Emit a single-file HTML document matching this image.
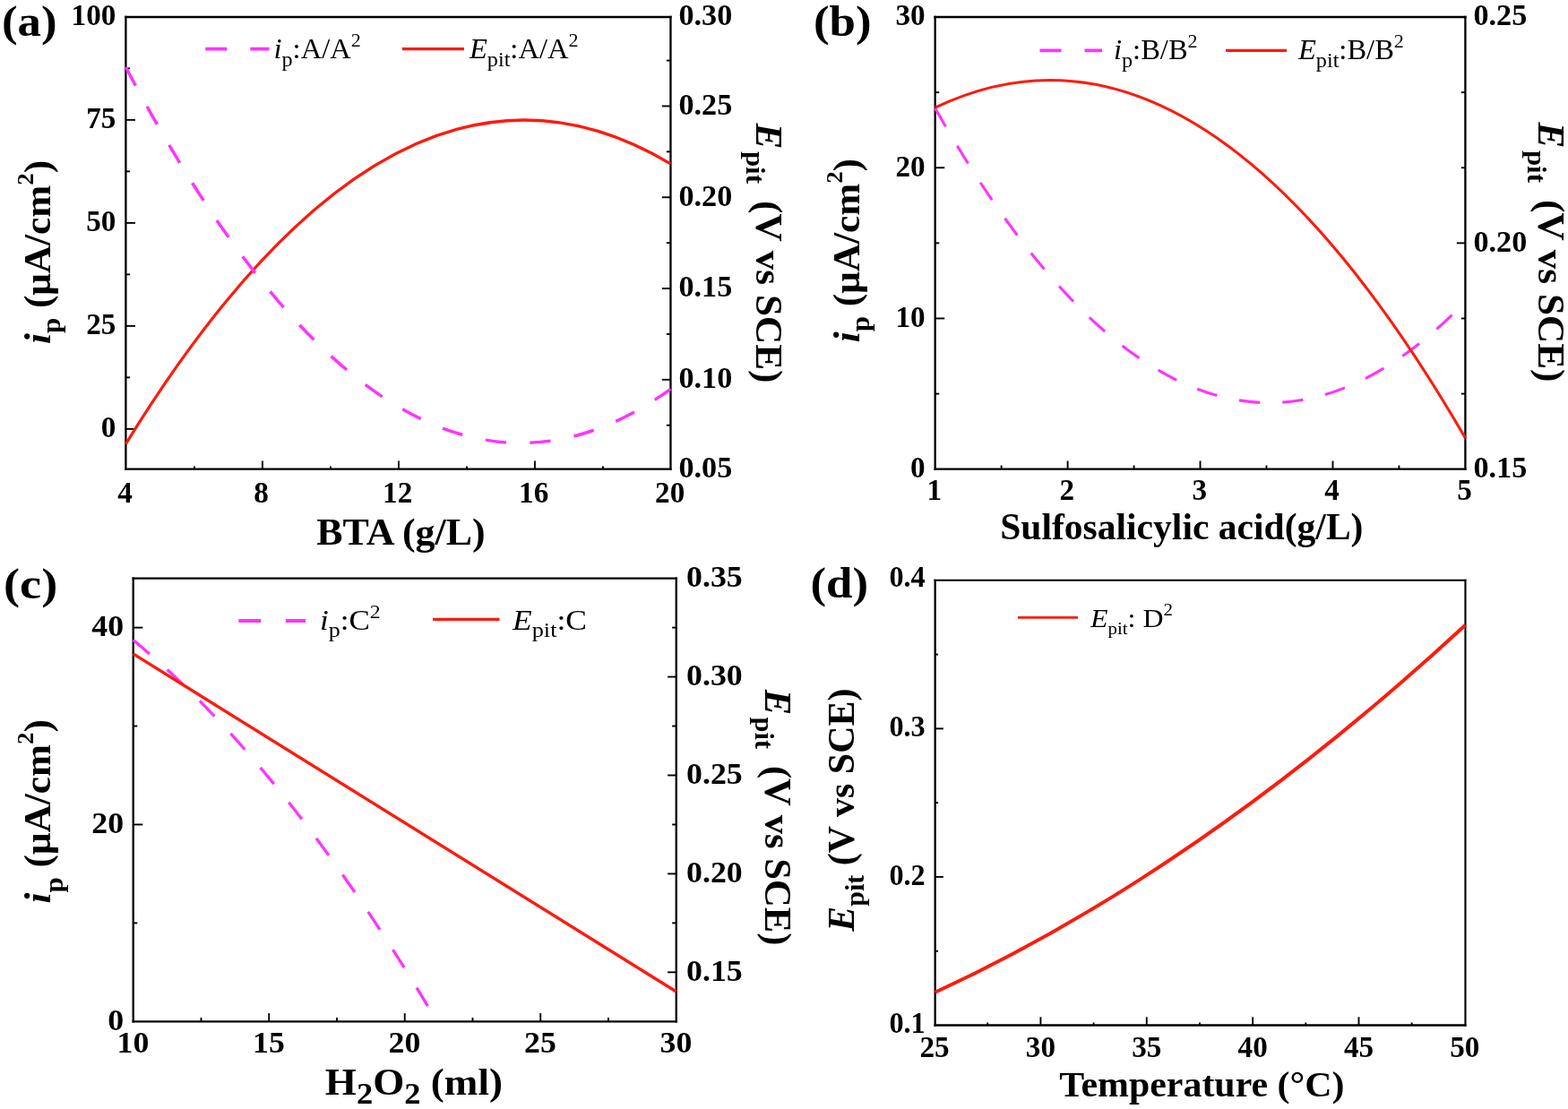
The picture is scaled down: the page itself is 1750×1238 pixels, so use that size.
<!DOCTYPE html>
<html lang="en">
<head>
<meta charset="utf-8">
<title>Effects of BTA, sulfosalicylic acid, H2O2 and temperature on ip and Epit</title>
<style>
html,body{margin:0;padding:0;background:#fff;}
body{width:1750px;height:1238px;overflow:hidden;}
svg{display:block;font-family:'Liberation Serif', serif;}
text{fill:#000;}
</style>
</head>
<body>
<svg width="1750" height="1238" viewBox="0 0 1750 1238">
<rect x="0" y="0" width="1750" height="1238" fill="#fff"/>
<g id="panel-a">
<line x1="140.4" y1="17.85" x2="140.4" y2="524.85" stroke="#000" stroke-width="2.3"/>
<line x1="139.25" y1="523.7" x2="749.6" y2="523.7" stroke="#000" stroke-width="2.3"/>
<line x1="748.45" y1="17.85" x2="748.45" y2="524.85" stroke="#000" stroke-width="2.3"/>
<line x1="139.25" y1="19" x2="749.6" y2="19" stroke="#000" stroke-width="2.3"/>
<line x1="140.4" y1="478.86" x2="151" y2="478.86" stroke="#000" stroke-width="1.9"/>
<line x1="140.4" y1="421.36" x2="145" y2="421.36" stroke="#000" stroke-width="1.9"/>
<line x1="140.4" y1="363.86" x2="151" y2="363.86" stroke="#000" stroke-width="1.9"/>
<line x1="140.4" y1="306.36" x2="145" y2="306.36" stroke="#000" stroke-width="1.9"/>
<line x1="140.4" y1="248.86" x2="151" y2="248.86" stroke="#000" stroke-width="1.9"/>
<line x1="140.4" y1="191.36" x2="145" y2="191.36" stroke="#000" stroke-width="1.9"/>
<line x1="140.4" y1="133.86" x2="151" y2="133.86" stroke="#000" stroke-width="1.9"/>
<line x1="140.4" y1="76.36" x2="145" y2="76.36" stroke="#000" stroke-width="1.9"/>
<text transform="translate(129.4 488.16) scale(1.0 1.015)" font-size="33.2" text-anchor="end" font-weight="bold">0</text>
<text transform="translate(129.4 373.16) scale(1.0 1.015)" font-size="33.2" text-anchor="end" font-weight="bold">25</text>
<text transform="translate(129.4 258.16) scale(1.0 1.015)" font-size="33.2" text-anchor="end" font-weight="bold">50</text>
<text transform="translate(129.4 143.16) scale(1.0 1.015)" font-size="33.2" text-anchor="end" font-weight="bold">75</text>
<text transform="translate(129.4 28.16) scale(1.0 1.015)" font-size="33.2" text-anchor="end" font-weight="bold">100</text>
<line x1="743.85" y1="474.72" x2="748.45" y2="474.72" stroke="#000" stroke-width="1.9"/>
<line x1="738.85" y1="423.83" x2="748.45" y2="423.83" stroke="#000" stroke-width="1.9"/>
<line x1="743.85" y1="372.94" x2="748.45" y2="372.94" stroke="#000" stroke-width="1.9"/>
<line x1="738.85" y1="322.04" x2="748.45" y2="322.04" stroke="#000" stroke-width="1.9"/>
<line x1="743.85" y1="271.15" x2="748.45" y2="271.15" stroke="#000" stroke-width="1.9"/>
<line x1="738.85" y1="220.25" x2="748.45" y2="220.25" stroke="#000" stroke-width="1.9"/>
<line x1="743.85" y1="169.35" x2="748.45" y2="169.35" stroke="#000" stroke-width="1.9"/>
<line x1="738.85" y1="118.46" x2="748.45" y2="118.46" stroke="#000" stroke-width="1.9"/>
<line x1="743.85" y1="67.56" x2="748.45" y2="67.56" stroke="#000" stroke-width="1.9"/>
<text transform="translate(757.45 533) scale(1.03 1.015)" font-size="33.2" font-weight="bold">0.05</text>
<text transform="translate(757.45 433.13) scale(1.03 1.015)" font-size="33.2" font-weight="bold">0.10</text>
<text transform="translate(757.45 331.34) scale(1.03 1.015)" font-size="33.2" font-weight="bold">0.15</text>
<text transform="translate(757.45 229.55) scale(1.03 1.015)" font-size="33.2" font-weight="bold">0.20</text>
<text transform="translate(757.45 127.76) scale(1.03 1.015)" font-size="33.2" font-weight="bold">0.25</text>
<text transform="translate(757.45 28.3) scale(1.03 1.015)" font-size="33.2" font-weight="bold">0.30</text>
<line x1="216.91" y1="523.7" x2="216.91" y2="520.4" stroke="#000" stroke-width="1.9"/>
<line x1="292.91" y1="523.7" x2="292.91" y2="514.5" stroke="#000" stroke-width="1.9"/>
<line x1="368.92" y1="523.7" x2="368.92" y2="520.4" stroke="#000" stroke-width="1.9"/>
<line x1="444.93" y1="523.7" x2="444.93" y2="514.5" stroke="#000" stroke-width="1.9"/>
<line x1="520.93" y1="523.7" x2="520.93" y2="520.4" stroke="#000" stroke-width="1.9"/>
<line x1="596.94" y1="523.7" x2="596.94" y2="514.5" stroke="#000" stroke-width="1.9"/>
<line x1="672.94" y1="523.7" x2="672.94" y2="520.4" stroke="#000" stroke-width="1.9"/>
<text transform="translate(139.6 560.6) scale(1.0 1.015)" font-size="33.2" text-anchor="middle" font-weight="bold">4</text>
<text transform="translate(291.61 560.6) scale(1.0 1.015)" font-size="33.2" text-anchor="middle" font-weight="bold">8</text>
<text transform="translate(443.63 560.6) scale(1.0 1.015)" font-size="33.2" text-anchor="middle" font-weight="bold">12</text>
<text transform="translate(595.64 560.6) scale(1.0 1.015)" font-size="33.2" text-anchor="middle" font-weight="bold">16</text>
<text transform="translate(747.65 560.6) scale(1.0 1.015)" font-size="33.2" text-anchor="middle" font-weight="bold">20</text>
<path d="M140.4,495.54 Q444.43,1.09 748.45,182.86" fill="none" stroke="#ff1a0d" stroke-width="3.2" stroke-linejoin="round"/>
<path d="M140.4,74.95 Q444.43,653.41 748.45,434.31" fill="none" stroke="#ff33ff" stroke-width="3.5" stroke-linejoin="round" stroke-dasharray="23.2 26.5"/>
<text transform="translate(447.5 607.6) scale(1.047 1.0)" font-size="42" text-anchor="middle" font-weight="bold">BTA (g/L)</text>
<text transform="translate(56.2 281.5) rotate(-90) scale(1.03 1.0)" font-size="42" text-anchor="middle" font-weight="bold"><tspan font-style="italic">i</tspan><tspan font-size="30" dy="11">p</tspan><tspan dy="-11"> (μA/cm</tspan><tspan font-size="26" dy="-19">2</tspan><tspan dy="19">)</tspan></text>
<text transform="translate(844 282.5) rotate(90) scale(1.03 1.0)" font-size="42" text-anchor="middle" font-weight="bold"><tspan font-style="italic">E</tspan><tspan font-size="30" dx="2.5" dy="11">pit</tspan><tspan dx="8" dy="-11"> (V vs SCE)</tspan></text>
<text transform="translate(2 40) scale(1.1 1.0)" font-size="48" font-weight="bold">(a)</text>
<line x1="229.3" y1="54.6" x2="300.5" y2="54.6" stroke="#ff33ff" stroke-width="3.8" stroke-dasharray="24 26"/>
<text transform="translate(305.5 65) scale(1.05 1.0)" font-size="31"><tspan font-style="italic">i</tspan><tspan font-size="23" dy="8.5">p</tspan><tspan dy="-8.5">:A/A</tspan><tspan font-size="21" dy="-13">2</tspan></text>
<line x1="448.8" y1="54.6" x2="518" y2="54.6" stroke="#ff1a0d" stroke-width="3.2"/>
<text transform="translate(524 65) scale(1.05 1.0)" font-size="31"><tspan font-style="italic">E</tspan><tspan font-size="23" dy="8.5">pit</tspan><tspan dy="-8.5">:A/A</tspan><tspan font-size="21" dy="-13">2</tspan></text>
</g>
<g id="panel-b">
<line x1="1043.65" y1="17.85" x2="1043.65" y2="524.85" stroke="#000" stroke-width="2.3"/>
<line x1="1042.5" y1="523.7" x2="1636.55" y2="523.7" stroke="#000" stroke-width="2.3"/>
<line x1="1635.4" y1="17.85" x2="1635.4" y2="524.85" stroke="#000" stroke-width="2.3"/>
<line x1="1042.5" y1="19" x2="1636.55" y2="19" stroke="#000" stroke-width="2.3"/>
<line x1="1043.65" y1="439.58" x2="1048.25" y2="439.58" stroke="#000" stroke-width="1.9"/>
<line x1="1043.65" y1="355.47" x2="1054.25" y2="355.47" stroke="#000" stroke-width="1.9"/>
<line x1="1043.65" y1="271.35" x2="1048.25" y2="271.35" stroke="#000" stroke-width="1.9"/>
<line x1="1043.65" y1="187.23" x2="1054.25" y2="187.23" stroke="#000" stroke-width="1.9"/>
<line x1="1043.65" y1="103.12" x2="1048.25" y2="103.12" stroke="#000" stroke-width="1.9"/>
<text transform="translate(1032.65 533) scale(1.0 1.015)" font-size="33.2" text-anchor="end" font-weight="bold">0</text>
<text transform="translate(1032.65 364.77) scale(1.0 1.015)" font-size="33.2" text-anchor="end" font-weight="bold">10</text>
<text transform="translate(1032.65 196.53) scale(1.0 1.015)" font-size="33.2" text-anchor="end" font-weight="bold">20</text>
<text transform="translate(1032.65 28.3) scale(1.0 1.015)" font-size="33.2" text-anchor="end" font-weight="bold">30</text>
<line x1="1630.8" y1="439.58" x2="1635.4" y2="439.58" stroke="#000" stroke-width="1.9"/>
<line x1="1630.8" y1="355.47" x2="1635.4" y2="355.47" stroke="#000" stroke-width="1.9"/>
<line x1="1625.8" y1="271.35" x2="1635.4" y2="271.35" stroke="#000" stroke-width="1.9"/>
<line x1="1630.8" y1="187.23" x2="1635.4" y2="187.23" stroke="#000" stroke-width="1.9"/>
<line x1="1630.8" y1="103.12" x2="1635.4" y2="103.12" stroke="#000" stroke-width="1.9"/>
<text transform="translate(1644.4 533) scale(1.03 1.015)" font-size="33.2" font-weight="bold">0.15</text>
<text transform="translate(1644.4 280.65) scale(1.03 1.015)" font-size="33.2" font-weight="bold">0.20</text>
<text transform="translate(1644.4 28.3) scale(1.03 1.015)" font-size="33.2" font-weight="bold">0.25</text>
<line x1="1117.62" y1="523.7" x2="1117.62" y2="519.5" stroke="#000" stroke-width="1.9"/>
<line x1="1191.59" y1="523.7" x2="1191.59" y2="514.5" stroke="#000" stroke-width="1.9"/>
<line x1="1265.56" y1="523.7" x2="1265.56" y2="519.5" stroke="#000" stroke-width="1.9"/>
<line x1="1339.53" y1="523.7" x2="1339.53" y2="514.5" stroke="#000" stroke-width="1.9"/>
<line x1="1413.49" y1="523.7" x2="1413.49" y2="519.5" stroke="#000" stroke-width="1.9"/>
<line x1="1487.46" y1="523.7" x2="1487.46" y2="514.5" stroke="#000" stroke-width="1.9"/>
<line x1="1561.43" y1="523.7" x2="1561.43" y2="519.5" stroke="#000" stroke-width="1.9"/>
<text transform="translate(1042.85 558.1) scale(1.0 1.015)" font-size="33.2" text-anchor="middle" font-weight="bold">1</text>
<text transform="translate(1190.79 558.1) scale(1.0 1.015)" font-size="33.2" text-anchor="middle" font-weight="bold">2</text>
<text transform="translate(1338.73 558.1) scale(1.0 1.015)" font-size="33.2" text-anchor="middle" font-weight="bold">3</text>
<text transform="translate(1486.66 558.1) scale(1.0 1.015)" font-size="33.2" text-anchor="middle" font-weight="bold">4</text>
<text transform="translate(1634.6 558.1) scale(1.0 1.015)" font-size="33.2" text-anchor="middle" font-weight="bold">5</text>
<path d="M1043.65,120.78 Q1339.53,642.27 1635.4,336.7" fill="none" stroke="#ff33ff" stroke-width="3.1" stroke-linejoin="round" stroke-dasharray="23.4 25.1"/>
<path d="M1043.65,120.14 Q1339.53,-21.13 1635.4,488.92" fill="none" stroke="#ff1a0d" stroke-width="3.1" stroke-linejoin="round"/>
<text transform="translate(1318.8 601.7) scale(0.99 1.0)" font-size="42" text-anchor="middle" font-weight="bold">Sulfosalicylic acid(g/L)</text>
<text transform="translate(959.2 279.6) rotate(-90) scale(1.03 1.0)" font-size="42" text-anchor="middle" font-weight="bold"><tspan font-style="italic">i</tspan><tspan font-size="30" dy="11">p</tspan><tspan dy="-11"> (μA/cm</tspan><tspan font-size="26" dy="-19">2</tspan><tspan dy="19">)</tspan></text>
<text transform="translate(1716.5 281.5) rotate(90) scale(1.03 1.0)" font-size="42" text-anchor="middle" font-weight="bold"><tspan font-style="italic">E</tspan><tspan font-size="30" dx="2.5" dy="11">pit</tspan><tspan dx="8" dy="-11"> (V vs SCE)</tspan></text>
<text transform="translate(908 40) scale(1.1 1.0)" font-size="48" font-weight="bold">(b)</text>
<line x1="1160.5" y1="56.4" x2="1230" y2="56.4" stroke="#ff33ff" stroke-width="3.6" stroke-dasharray="24 26"/>
<text transform="translate(1243 66) scale(1.05 1.0)" font-size="31"><tspan font-style="italic">i</tspan><tspan font-size="23" dy="8.5">p</tspan><tspan dy="-8.5">:B/B</tspan><tspan font-size="21" dy="-13">2</tspan></text>
<line x1="1368" y1="56.4" x2="1436" y2="56.4" stroke="#ff1a0d" stroke-width="3.2"/>
<text transform="translate(1449 66) scale(1.05 1.0)" font-size="31"><tspan font-style="italic">E</tspan><tspan font-size="23" dy="8.5">pit</tspan><tspan dy="-8.5">:B/B</tspan><tspan font-size="21" dy="-13">2</tspan></text>
</g>
<g id="panel-c">
<line x1="148.7" y1="644.5" x2="148.7" y2="1141.45" stroke="#000" stroke-width="2.3"/>
<line x1="147.55" y1="1140.3" x2="755.9" y2="1140.3" stroke="#000" stroke-width="2.3"/>
<line x1="754.75" y1="644.5" x2="754.75" y2="1141.45" stroke="#000" stroke-width="2.3"/>
<line x1="147.55" y1="645.65" x2="755.9" y2="645.65" stroke="#000" stroke-width="2.3"/>
<line x1="148.7" y1="1030.38" x2="153.3" y2="1030.38" stroke="#000" stroke-width="1.9"/>
<line x1="148.7" y1="920.46" x2="159.3" y2="920.46" stroke="#000" stroke-width="1.9"/>
<line x1="148.7" y1="810.53" x2="153.3" y2="810.53" stroke="#000" stroke-width="1.9"/>
<line x1="148.7" y1="700.61" x2="159.3" y2="700.61" stroke="#000" stroke-width="1.9"/>
<text transform="translate(138.1 1149.6) scale(1.08 1.015)" font-size="33.2" text-anchor="end" font-weight="bold">0</text>
<text transform="translate(138.1 929.76) scale(1.08 1.015)" font-size="33.2" text-anchor="end" font-weight="bold">20</text>
<text transform="translate(138.1 709.91) scale(1.08 1.015)" font-size="33.2" text-anchor="end" font-weight="bold">40</text>
<line x1="745.15" y1="1085.34" x2="754.75" y2="1085.34" stroke="#000" stroke-width="1.9"/>
<line x1="750.15" y1="1030.38" x2="754.75" y2="1030.38" stroke="#000" stroke-width="1.9"/>
<line x1="745.15" y1="975.42" x2="754.75" y2="975.42" stroke="#000" stroke-width="1.9"/>
<line x1="750.15" y1="920.46" x2="754.75" y2="920.46" stroke="#000" stroke-width="1.9"/>
<line x1="745.15" y1="865.49" x2="754.75" y2="865.49" stroke="#000" stroke-width="1.9"/>
<line x1="750.15" y1="810.53" x2="754.75" y2="810.53" stroke="#000" stroke-width="1.9"/>
<line x1="745.15" y1="755.57" x2="754.75" y2="755.57" stroke="#000" stroke-width="1.9"/>
<line x1="750.15" y1="700.61" x2="754.75" y2="700.61" stroke="#000" stroke-width="1.9"/>
<text transform="translate(766.05 1094.64) scale(1.08 1.015)" font-size="33.2" font-weight="bold">0.15</text>
<text transform="translate(766.05 984.72) scale(1.08 1.015)" font-size="33.2" font-weight="bold">0.20</text>
<text transform="translate(766.05 874.79) scale(1.08 1.015)" font-size="33.2" font-weight="bold">0.25</text>
<text transform="translate(766.05 764.87) scale(1.08 1.015)" font-size="33.2" font-weight="bold">0.30</text>
<text transform="translate(766.05 654.95) scale(1.08 1.015)" font-size="33.2" font-weight="bold">0.35</text>
<line x1="224.46" y1="1140.3" x2="224.46" y2="1136.1" stroke="#000" stroke-width="1.9"/>
<line x1="300.21" y1="1140.3" x2="300.21" y2="1131.1" stroke="#000" stroke-width="1.9"/>
<line x1="375.97" y1="1140.3" x2="375.97" y2="1136.1" stroke="#000" stroke-width="1.9"/>
<line x1="451.72" y1="1140.3" x2="451.72" y2="1131.1" stroke="#000" stroke-width="1.9"/>
<line x1="527.48" y1="1140.3" x2="527.48" y2="1136.1" stroke="#000" stroke-width="1.9"/>
<line x1="603.24" y1="1140.3" x2="603.24" y2="1131.1" stroke="#000" stroke-width="1.9"/>
<line x1="678.99" y1="1140.3" x2="678.99" y2="1136.1" stroke="#000" stroke-width="1.9"/>
<text transform="translate(148.4 1175.3) scale(1.08 1.015)" font-size="33.2" text-anchor="middle" font-weight="bold">10</text>
<text transform="translate(299.91 1175.3) scale(1.08 1.015)" font-size="33.2" text-anchor="middle" font-weight="bold">15</text>
<text transform="translate(451.42 1175.3) scale(1.08 1.015)" font-size="33.2" text-anchor="middle" font-weight="bold">20</text>
<text transform="translate(602.94 1175.3) scale(1.08 1.015)" font-size="33.2" text-anchor="middle" font-weight="bold">25</text>
<text transform="translate(754.45 1175.3) scale(1.08 1.015)" font-size="33.2" text-anchor="middle" font-weight="bold">30</text>
<path d="M148.7,714.58 Q314.35,850.5 480,1127.4" fill="none" stroke="#ff33ff" stroke-width="3.3" stroke-linejoin="round" stroke-dasharray="23.8 26.5"/>
<line x1="148.7" y1="729.9" x2="754.75" y2="1107" stroke="#ff1a0d" stroke-width="3.4"/>
<text transform="translate(461.9 1221.5) scale(1.075 1.0)" font-size="42" text-anchor="middle" font-weight="bold">H<tspan font-size="34" dy="10.5">2</tspan><tspan dy="-10.5">O</tspan><tspan font-size="34" dy="10.5">2</tspan><tspan dy="-10.5"> (ml)</tspan></text>
<text transform="translate(56 905.8) rotate(-90) scale(1.03 1.0)" font-size="42" text-anchor="middle" font-weight="bold"><tspan font-style="italic">i</tspan><tspan font-size="30" dy="13.5">p</tspan><tspan dy="-13.5"> (μA/cm</tspan><tspan font-size="26" dy="-19">2</tspan><tspan dy="19">)</tspan></text>
<text transform="translate(854.4 912.5) rotate(90) scale(1.015 1.0)" font-size="42" text-anchor="middle" font-weight="bold"><tspan font-style="italic">E</tspan><tspan font-size="30" dx="2.5" dy="11">pit</tspan><tspan dx="8" dy="-11"> (V vs SCE)</tspan></text>
<text transform="translate(4 668) scale(1.13 1.0)" font-size="48" font-weight="bold">(c)</text>
<line x1="266.3" y1="693" x2="341" y2="693" stroke="#ff33ff" stroke-width="3.8" stroke-dasharray="25 27.6"/>
<text transform="translate(357 702.5) scale(1.13 1.0)" font-size="31"><tspan font-style="italic">i</tspan><tspan font-size="23" dy="8.5">p</tspan><tspan dy="-8.5">:C</tspan><tspan font-size="21" dy="-13">2</tspan></text>
<line x1="483" y1="691.3" x2="557.5" y2="691.3" stroke="#ff1a0d" stroke-width="3.2"/>
<text transform="translate(572 702.5) scale(1.145 1.0)" font-size="31"><tspan font-style="italic">E</tspan><tspan font-size="23" dy="8.5">pit</tspan><tspan dy="-8.5">:C</tspan></text>
</g>
<g id="panel-d">
<line x1="1043.65" y1="646.85" x2="1043.65" y2="1145.65" stroke="#000" stroke-width="2.3"/>
<line x1="1042.5" y1="1144.5" x2="1636.5" y2="1144.5" stroke="#000" stroke-width="2.3"/>
<line x1="1635.45" y1="646.85" x2="1635.45" y2="1145.65" stroke="#000" stroke-width="2.1"/>
<line x1="1042.5" y1="647.8" x2="1636.5" y2="647.8" stroke="#000" stroke-width="1.9"/>
<line x1="1043.65" y1="1061.72" x2="1047.05" y2="1061.72" stroke="#000" stroke-width="1.9"/>
<line x1="1043.65" y1="978.93" x2="1052.85" y2="978.93" stroke="#000" stroke-width="1.9"/>
<line x1="1043.65" y1="896.15" x2="1047.05" y2="896.15" stroke="#000" stroke-width="1.9"/>
<line x1="1043.65" y1="813.37" x2="1052.85" y2="813.37" stroke="#000" stroke-width="1.9"/>
<line x1="1043.65" y1="730.58" x2="1047.05" y2="730.58" stroke="#000" stroke-width="1.9"/>
<text transform="translate(1032.65 1153.1) scale(0.97 1.015)" font-size="33.2" text-anchor="end" font-weight="bold">0.1</text>
<text transform="translate(1032.65 987.53) scale(0.97 1.015)" font-size="33.2" text-anchor="end" font-weight="bold">0.2</text>
<text transform="translate(1032.65 821.97) scale(0.97 1.015)" font-size="33.2" text-anchor="end" font-weight="bold">0.3</text>
<text transform="translate(1032.65 655.4) scale(0.97 1.015)" font-size="33.2" text-anchor="end" font-weight="bold">0.4</text>
<line x1="1102.23" y1="1144.5" x2="1102.23" y2="1141.5" stroke="#000" stroke-width="1.9"/>
<line x1="1161.41" y1="1144.5" x2="1161.41" y2="1135.3" stroke="#000" stroke-width="1.9"/>
<line x1="1220.59" y1="1144.5" x2="1220.59" y2="1141.5" stroke="#000" stroke-width="1.9"/>
<line x1="1279.77" y1="1144.5" x2="1279.77" y2="1135.3" stroke="#000" stroke-width="1.9"/>
<line x1="1338.95" y1="1144.5" x2="1338.95" y2="1141.5" stroke="#000" stroke-width="1.9"/>
<line x1="1398.13" y1="1144.5" x2="1398.13" y2="1135.3" stroke="#000" stroke-width="1.9"/>
<line x1="1457.31" y1="1144.5" x2="1457.31" y2="1141.5" stroke="#000" stroke-width="1.9"/>
<line x1="1516.49" y1="1144.5" x2="1516.49" y2="1135.3" stroke="#000" stroke-width="1.9"/>
<line x1="1575.67" y1="1144.5" x2="1575.67" y2="1141.5" stroke="#000" stroke-width="1.9"/>
<text transform="translate(1043.05 1179.6) scale(1.0 1.015)" font-size="33.2" text-anchor="middle" font-weight="bold">25</text>
<text transform="translate(1161.41 1179.6) scale(1.0 1.015)" font-size="33.2" text-anchor="middle" font-weight="bold">30</text>
<text transform="translate(1279.77 1179.6) scale(1.0 1.015)" font-size="33.2" text-anchor="middle" font-weight="bold">35</text>
<text transform="translate(1398.13 1179.6) scale(1.0 1.015)" font-size="33.2" text-anchor="middle" font-weight="bold">40</text>
<text transform="translate(1516.49 1179.6) scale(1.0 1.015)" font-size="33.2" text-anchor="middle" font-weight="bold">45</text>
<text transform="translate(1634.85 1179.6) scale(1.0 1.015)" font-size="33.2" text-anchor="middle" font-weight="bold">50</text>
<path d="M1043.65,1107.8 Q1339.55,971.1 1635.45,697.7" fill="none" stroke="#ff1a0d" stroke-width="3.9" stroke-linejoin="round"/>
<text transform="translate(1341.4 1223.6) scale(1.035 1.0)" font-size="40.5" text-anchor="middle" font-weight="bold">Temperature (°C)</text>
<text transform="translate(952.5 904.1) rotate(-90)" font-size="42" text-anchor="middle" font-weight="bold"><tspan font-style="italic">E</tspan><tspan font-size="30" dy="11">pit</tspan><tspan dy="-11"> (V vs SCE)</tspan></text>
<text transform="translate(904.5 667) scale(1.1 1.0)" font-size="48" font-weight="bold">(d)</text>
<line x1="1136" y1="689.4" x2="1203" y2="689.4" stroke="#ff1a0d" stroke-width="2.8"/>
<text transform="translate(1217 699.5) scale(1.1 1.0)" font-size="29"><tspan font-style="italic">E</tspan><tspan font-size="19" dy="8">pit</tspan><tspan dy="-8">: D</tspan><tspan font-size="19" dy="-12.5">2</tspan></text>
</g>
</svg>
</body>
</html>
